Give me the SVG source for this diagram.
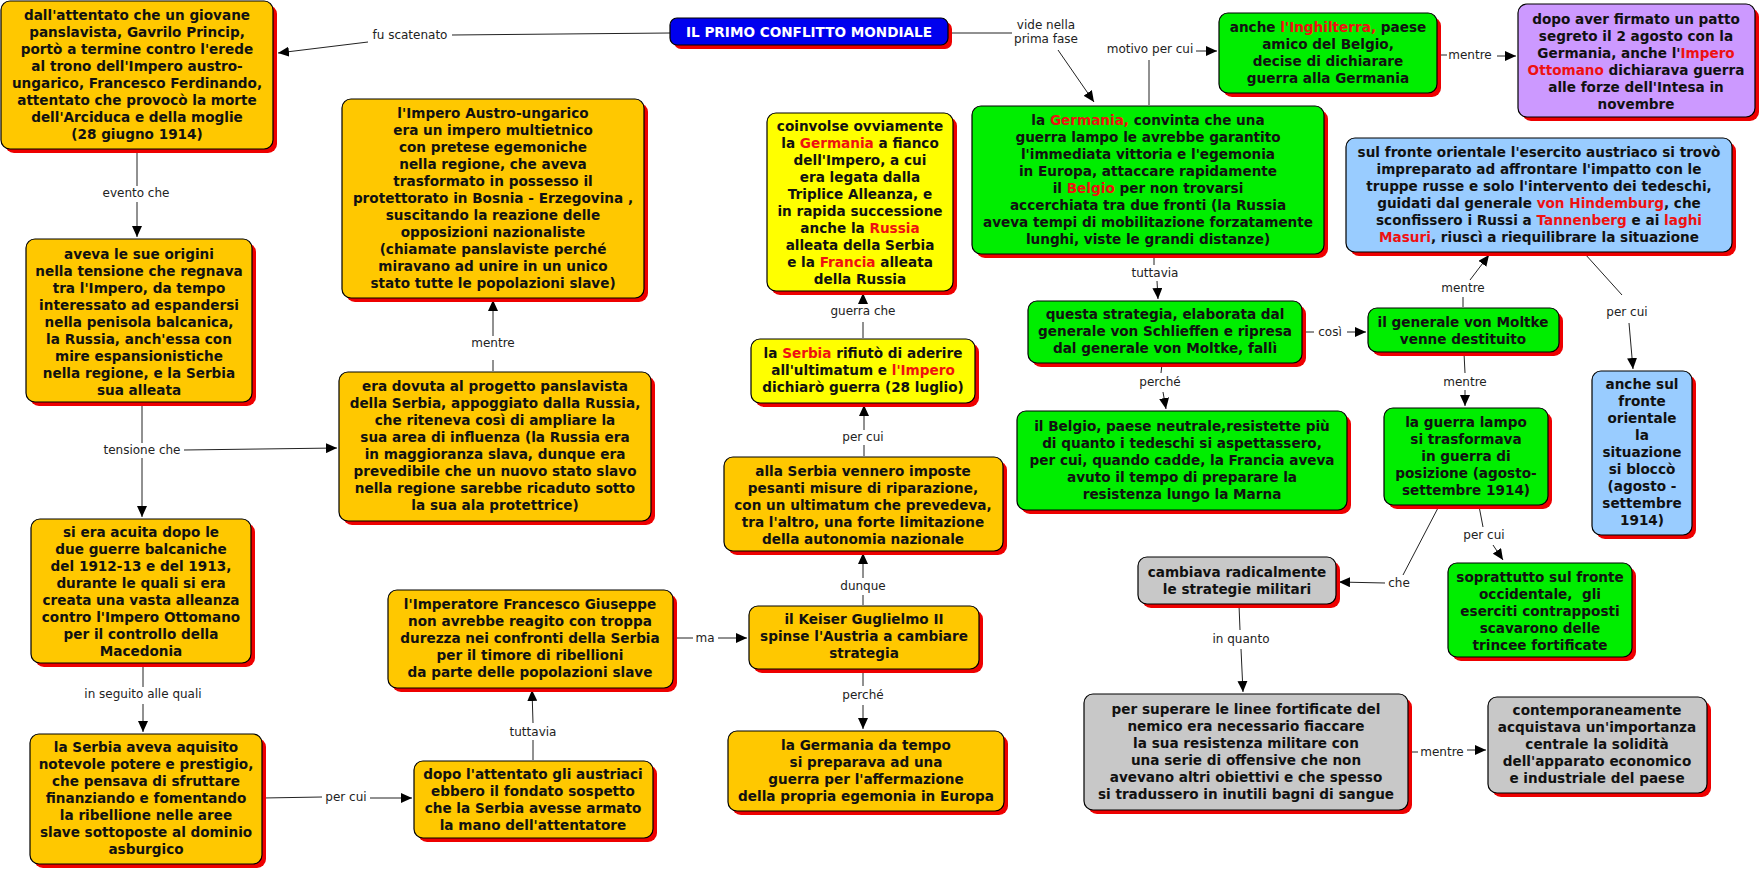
<svg xmlns="http://www.w3.org/2000/svg" width="1761" height="871" viewBox="0 0 1761 871">
<style>
.sh{fill:#ee0000}
.bx{stroke:#000;stroke-width:1.2}
.or{fill:#ffc800}.ye{fill:#ffff00}.gr{fill:#00ee00}.gy{fill:#c8c8c8}.bl{fill:#99ccff}.pu{fill:#cc99ff}.ti{fill:#0000ee}
.t{font-family:"DejaVu Sans",Verdana,sans-serif;font-weight:bold;font-size:13.6px;fill:#111;text-anchor:middle}
.w{fill:#fff}
.r{fill:#ee1111}
.lb{font-family:"DejaVu Sans",Verdana,sans-serif;font-size:12px;fill:#222;text-anchor:middle}
.ln{stroke:#222;stroke-width:1;fill:none}
.ar{stroke:#222;stroke-width:1;fill:none;marker-end:url(#ah)}
</style>
<defs>
<marker id="ah" markerUnits="userSpaceOnUse" markerWidth="12" markerHeight="10" refX="11" refY="5" orient="auto">
<path d="M0,0 L11,5 L0,10 z" fill="#000"/>
</marker>
</defs>
<rect width="1761" height="871" fill="#fff"/>

<g id="connectors">
<path class="ln" d="M670,33 L452,35"/><text class="lb" x="410" y="39">fu scatenato</text><path class="ar" d="M368,42 L278,53"/>
<path class="ln" d="M948,33 L1012,33"/><text class="lb" x="1046" y="29">vide nella</text><text class="lb" x="1046" y="43">prima fase</text><path class="ar" d="M1058,50 L1094,102"/>
<path class="ln" d="M1149,105 L1149,60"/><text class="lb" x="1150" y="53">motivo per cui</text><path class="ar" d="M1196,51 L1217,51"/>
<path class="ln" d="M1437,55 L1447,55"/><text class="lb" x="1470" y="59">mentre</text><path class="ar" d="M1497,56 L1516,56"/>
<path class="ln" d="M1154,255 L1154,265"/><text class="lb" x="1155" y="277">tuttavia</text><path class="ar" d="M1157,281 L1158,299"/>
<path class="ln" d="M1303,332 L1314,332"/><text class="lb" x="1330" y="336">così</text><path class="ar" d="M1347,332 L1366,332"/>
<path class="ln" d="M1162,364 L1161,373"/><text class="lb" x="1160" y="386">perché</text><path class="ar" d="M1163,392 L1166,409"/>
<path class="ln" d="M1463,307 L1463,297"/><text class="lb" x="1463" y="292">mentre</text><path class="ar" d="M1470,280 L1489,255"/>
<path class="ln" d="M1585,254 L1622,295"/><text class="lb" x="1627" y="316">per cui</text><path class="ar" d="M1629,323 L1633,369"/>
<path class="ln" d="M1464,353 L1465,373"/><text class="lb" x="1465" y="386">mentre</text><path class="ar" d="M1465,390 L1465,406"/>
<path class="ln" d="M1479,506 L1483,527"/><text class="lb" x="1484" y="539">per cui</text><path class="ar" d="M1493,545 L1503,560"/>
<path class="ln" d="M1439,506 L1403,575"/><text class="lb" x="1399" y="587">che</text><path class="ar" d="M1385,583 L1339,582"/>
<path class="ln" d="M1239,605 L1240,630"/><text class="lb" x="1241" y="643">in quanto</text><path class="ar" d="M1241,649 L1243,692"/>
<path class="ln" d="M1409,752 L1418,752"/><text class="lb" x="1442" y="756">mentre</text><path class="ar" d="M1467,750 L1486,750"/>
<path class="ln" d="M137,150 L137,186"/><text class="lb" x="136" y="197">evento che</text><path class="ar" d="M137,202 L137,237"/>
<path class="ln" d="M142,403 L142,443"/><text class="lb" x="142" y="454">tensione che</text><path class="ar" d="M142,458 L142,517"/><path class="ar" d="M184,450 L337,448"/>
<path class="ln" d="M143,664 L143,687"/><text class="lb" x="143" y="698">in seguito alle quali</text><path class="ar" d="M143,704 L143,732"/>
<path class="ln" d="M263,798 L322,797"/><text class="lb" x="346" y="801">per cui</text><path class="ar" d="M370,798 L412,798"/>
<path class="ln" d="M533,760 L533,740"/><text class="lb" x="533" y="736">tuttavia</text><path class="ar" d="M533,723 L532,690"/>
<path class="ln" d="M674,638 L693,638"/><text class="lb" x="705" y="642">ma</text><path class="ar" d="M718,638 L747,638"/>
<path class="ln" d="M863,605 L863,595"/><text class="lb" x="863" y="590">dunque</text><path class="ar" d="M863,578 L863,553"/>
<path class="ln" d="M863,670 L863,686"/><text class="lb" x="863" y="699">perché</text><path class="ar" d="M863,705 L863,729"/>
<path class="ln" d="M864,456 L864,445"/><text class="lb" x="863" y="441">per cui</text><path class="ar" d="M864,430 L864,405"/>
<path class="ln" d="M863,338 L863,322"/><text class="lb" x="863" y="315">guerra che</text><path class="ar" d="M863,303 L863,293"/>
<path class="ln" d="M493,371 L493,360"/><text class="lb" x="493" y="347">mentre</text><path class="ar" d="M493,336 L493,300"/>
</g>

<g id="title">
<rect class="sh" x="674" y="22" width="278" height="27" rx="7"/>
<rect class="bx ti" x="670" y="18" width="278" height="27" rx="7"/>
<text class="t w" x="809" y="37">IL PRIMO CONFLITTO MONDIALE</text>
</g>

<g id="n-attentato">
<rect class="sh" x="5" y="5" width="272" height="148" rx="9"/>
<rect class="bx or" x="1" y="1" width="272" height="148" rx="9"/>
<text class="t" x="137"><tspan x="137" y="20">dall'attentato che un giovane</tspan><tspan x="137" y="37">panslavista, Gavrilo Princip,</tspan><tspan x="137" y="54">portò a termine contro l'erede</tspan><tspan x="137" y="71">al trono dell'Impero austro-</tspan><tspan x="137" y="88">ungarico, Francesco Ferdinando,</tspan><tspan x="137" y="105">attentato che provocò la morte</tspan><tspan x="137" y="122">dell'Arciduca e della moglie</tspan><tspan x="137" y="139">(28 giugno 1914)</tspan></text>
</g>

<g id="n-origini">
<rect class="sh" x="30" y="243" width="226" height="163" rx="9"/>
<rect class="bx or" x="26" y="239" width="226" height="163" rx="9"/>
<text class="t"><tspan x="139" y="259">aveva le sue origini</tspan><tspan x="139" y="276">nella tensione che regnava</tspan><tspan x="139" y="293">tra l'Impero, da tempo</tspan><tspan x="139" y="310">interessato ad espandersi</tspan><tspan x="139" y="327">nella penisola balcanica,</tspan><tspan x="139" y="344">la Russia, anch'essa con</tspan><tspan x="139" y="361">mire espansionistiche</tspan><tspan x="139" y="378">nella regione, e la Serbia</tspan><tspan x="139" y="395">sua alleata</tspan></text>
</g>

<g id="n-acuita">
<rect class="sh" x="35" y="523" width="220" height="144" rx="9"/>
<rect class="bx or" x="31" y="519" width="220" height="144" rx="9"/>
<text class="t"><tspan x="141" y="537">si era acuita dopo le</tspan><tspan x="141" y="554">due guerre balcaniche</tspan><tspan x="141" y="571">del 1912-13 e del 1913,</tspan><tspan x="141" y="588">durante le quali si era</tspan><tspan x="141" y="605">creata una vasta alleanza</tspan><tspan x="141" y="622">contro l'Impero Ottomano</tspan><tspan x="141" y="639">per il controllo della</tspan><tspan x="141" y="656">Macedonia</tspan></text>
</g>

<g id="n-serbia-prestigio">
<rect class="sh" x="34" y="738" width="232" height="130" rx="9"/>
<rect class="bx or" x="30" y="734" width="232" height="130" rx="9"/>
<text class="t"><tspan x="146" y="752">la Serbia aveva aquisito</tspan><tspan x="146" y="769">notevole potere e prestigio,</tspan><tspan x="146" y="786">che pensava di sfruttare</tspan><tspan x="146" y="803">finanziando e fomentando</tspan><tspan x="146" y="820">la ribellione nelle aree</tspan><tspan x="146" y="837">slave sottoposte al dominio</tspan><tspan x="146" y="854">asburgico</tspan></text>
</g>

<g id="n-austro">
<rect class="sh" x="346" y="103" width="302" height="199" rx="9"/>
<rect class="bx or" x="342" y="99" width="302" height="199" rx="9"/>
<text class="t"><tspan x="493" y="118">l'Impero Austro-ungarico</tspan><tspan x="493" y="135">era un impero multietnico</tspan><tspan x="493" y="152">con pretese egemoniche</tspan><tspan x="493" y="169">nella regione, che aveva</tspan><tspan x="493" y="186">trasformato in possesso il</tspan><tspan x="493" y="203">protettorato in Bosnia - Erzegovina ,</tspan><tspan x="493" y="220">suscitando la reazione delle</tspan><tspan x="493" y="237">opposizioni nazionaliste</tspan><tspan x="493" y="254">(chiamate panslaviste perché</tspan><tspan x="493" y="271">miravano ad unire in un unico</tspan><tspan x="493" y="288">stato tutte le popolazioni slave)</tspan></text>
</g>

<g id="n-dovuta">
<rect class="sh" x="343" y="376" width="312" height="149" rx="9"/>
<rect class="bx or" x="339" y="372" width="312" height="149" rx="9"/>
<text class="t"><tspan x="495" y="391">era dovuta al progetto panslavista</tspan><tspan x="495" y="408">della Serbia, appoggiato dalla Russia,</tspan><tspan x="495" y="425">che riteneva così di ampliare la</tspan><tspan x="495" y="442">sua area di influenza (la Russia era</tspan><tspan x="495" y="459">in maggioranza slava, dunque era</tspan><tspan x="495" y="476">prevedibile che un nuovo stato slavo</tspan><tspan x="495" y="493">nella regione sarebbe ricaduto sotto</tspan><tspan x="495" y="510">la sua ala protettrice)</tspan></text>
</g>

<g id="n-imperatore">
<rect class="sh" x="392" y="594" width="285" height="98" rx="9"/>
<rect class="bx or" x="388" y="590" width="285" height="98" rx="9"/>
<text class="t"><tspan x="530" y="609">l'Imperatore Francesco Giuseppe</tspan><tspan x="530" y="626">non avrebbe reagito con troppa</tspan><tspan x="530" y="643">durezza nei confronti della Serbia</tspan><tspan x="530" y="660">per il timore di ribellioni</tspan><tspan x="530" y="677">da parte delle popolazioni slave</tspan></text>
</g>

<g id="n-sospetto">
<rect class="sh" x="418" y="765" width="239" height="77" rx="9"/>
<rect class="bx or" x="414" y="761" width="239" height="77" rx="9"/>
<text class="t"><tspan x="533" y="779">dopo l'attentato gli austriaci</tspan><tspan x="533" y="796">ebbero il fondato sospetto</tspan><tspan x="533" y="813">che la Serbia avesse armato</tspan><tspan x="533" y="830">la mano dell'attentatore</tspan></text>
</g>

<g id="n-coinvolse">
<rect class="sh" x="771" y="117" width="186" height="178" rx="9"/>
<rect class="bx ye" x="767" y="113" width="186" height="178" rx="9"/>
<text class="t"><tspan x="860" y="131">coinvolse ovviamente</tspan><tspan x="860" y="148">la <tspan class="r">Germania</tspan> a fianco</tspan><tspan x="860" y="165">dell'Impero, a cui</tspan><tspan x="860" y="182">era legata dalla</tspan><tspan x="860" y="199">Triplice Alleanza, e</tspan><tspan x="860" y="216">in rapida successione</tspan><tspan x="860" y="233">anche la <tspan class="r">Russia</tspan></tspan><tspan x="860" y="250">alleata della Serbia</tspan><tspan x="860" y="267">e la <tspan class="r">Francia</tspan> alleata</tspan><tspan x="860" y="284">della Russia</tspan></text>
</g>

<g id="n-rifiuto">
<rect class="sh" x="755" y="343" width="224" height="64" rx="9"/>
<rect class="bx ye" x="751" y="339" width="224" height="64" rx="9"/>
<text class="t"><tspan x="863" y="358">la <tspan class="r">Serbia</tspan> rifiutò di aderire</tspan><tspan x="863" y="375">all'ultimatum e <tspan class="r">l'Impero</tspan></tspan><tspan x="863" y="392">dichiarò guerra (28 luglio)</tspan></text>
</g>

<g id="n-riparazione">
<rect class="sh" x="728" y="461" width="279" height="94" rx="9"/>
<rect class="bx or" x="724" y="457" width="279" height="94" rx="9"/>
<text class="t"><tspan x="863" y="476">alla Serbia vennero imposte</tspan><tspan x="863" y="493">pesanti misure di riparazione,</tspan><tspan x="863" y="510">con un ultimatum che prevedeva,</tspan><tspan x="863" y="527">tra l'altro, una forte limitazione</tspan><tspan x="863" y="544">della autonomia nazionale</tspan></text>
</g>

<g id="n-keiser">
<rect class="sh" x="753" y="610" width="230" height="63" rx="9"/>
<rect class="bx or" x="749" y="606" width="230" height="63" rx="9"/>
<text class="t"><tspan x="864" y="624">il Keiser Guglielmo II</tspan><tspan x="864" y="641">spinse l'Austria a cambiare</tspan><tspan x="864" y="658">strategia</tspan></text>
</g>

<g id="n-germania-tempo">
<rect class="sh" x="732" y="735" width="276" height="80" rx="9"/>
<rect class="bx or" x="728" y="731" width="276" height="80" rx="9"/>
<text class="t"><tspan x="866" y="750">la Germania da tempo</tspan><tspan x="866" y="767">si preparava ad una</tspan><tspan x="866" y="784">guerra per l'affermazione</tspan><tspan x="866" y="801">della propria egemonia in Europa</tspan></text>
</g>

<g id="n-germania">
<rect class="sh" x="976" y="110" width="352" height="148" rx="9"/>
<rect class="bx gr" x="972" y="106" width="352" height="148" rx="9"/>
<text class="t"><tspan x="1148" y="125">la <tspan class="r">Germania,</tspan> convinta che una</tspan><tspan x="1148" y="142">guerra lampo le avrebbe garantito</tspan><tspan x="1148" y="159">l'immediata vittoria e l'egemonia</tspan><tspan x="1148" y="176">in Europa, attaccare rapidamente</tspan><tspan x="1148" y="193">il <tspan class="r">Belgio</tspan> per non trovarsi</tspan><tspan x="1148" y="210">accerchiata tra due fronti (la Russia</tspan><tspan x="1148" y="227">aveva tempi di mobilitazione forzatamente</tspan><tspan x="1148" y="244">lunghi, viste le grandi distanze)</tspan></text>
</g>

<g id="n-inghilterra">
<rect class="sh" x="1223" y="17" width="218" height="80" rx="9"/>
<rect class="bx gr" x="1219" y="13" width="218" height="80" rx="9"/>
<text class="t"><tspan x="1328" y="32">anche <tspan class="r">l'Inghilterra,</tspan> paese</tspan><tspan x="1328" y="49">amico del Belgio,</tspan><tspan x="1328" y="66">decise di dichiarare</tspan><tspan x="1328" y="83">guerra alla Germania</tspan></text>
</g>

<g id="n-ottomano">
<rect class="sh" x="1522" y="8" width="237" height="113" rx="9"/>
<rect class="bx pu" x="1518" y="4" width="237" height="113" rx="9"/>
<text class="t"><tspan x="1636" y="24">dopo aver firmato un patto</tspan><tspan x="1636" y="41">segreto il 2 agosto con la</tspan><tspan x="1636" y="58">Germania, anche l'<tspan class="r">Impero</tspan></tspan><tspan x="1636" y="75"><tspan class="r">Ottomano</tspan> dichiarava guerra</tspan><tspan x="1636" y="92">alle forze dell'Intesa in</tspan><tspan x="1636" y="109">novembre</tspan></text>
</g>

<g id="n-fronte-orientale">
<rect class="sh" x="1350" y="142" width="386" height="114" rx="9"/>
<rect class="bx bl" x="1346" y="138" width="386" height="114" rx="9"/>
<text class="t"><tspan x="1539" y="157">sul fronte orientale l'esercito austriaco si trovò</tspan><tspan x="1539" y="174">impreparato ad affrontare l'impatto con le</tspan><tspan x="1539" y="191">truppe russe e solo l'intervento dei tedeschi,</tspan><tspan x="1539" y="208">guidati dal generale <tspan class="r">von Hindemburg</tspan>, che</tspan><tspan x="1539" y="225">sconfissero i Russi a <tspan class="r">Tannenberg</tspan> e ai <tspan class="r">laghi</tspan></tspan><tspan x="1539" y="242"><tspan class="r">Masuri</tspan>, riuscì a riequilibrare la situazione</tspan></text>
</g>

<g id="n-schlieffen">
<rect class="sh" x="1032" y="305" width="274" height="62" rx="9"/>
<rect class="bx gr" x="1028" y="301" width="274" height="62" rx="9"/>
<text class="t"><tspan x="1165" y="319">questa strategia, elaborata dal</tspan><tspan x="1165" y="336">generale von Schlieffen e ripresa</tspan><tspan x="1165" y="353">dal generale von Moltke, fallì</tspan></text>
</g>

<g id="n-moltke">
<rect class="sh" x="1372" y="312" width="191" height="44" rx="9"/>
<rect class="bx gr" x="1368" y="308" width="191" height="44" rx="9"/>
<text class="t"><tspan x="1463" y="327">il generale von Moltke</tspan><tspan x="1463" y="344">venne destituito</tspan></text>
</g>

<g id="n-blocco">
<rect class="sh" x="1596" y="375" width="100" height="164" rx="9"/>
<rect class="bx bl" x="1592" y="371" width="100" height="164" rx="9"/>
<text class="t"><tspan x="1642" y="389">anche sul</tspan><tspan x="1642" y="406">fronte</tspan><tspan x="1642" y="423">orientale</tspan><tspan x="1642" y="440">la</tspan><tspan x="1642" y="457">situazione</tspan><tspan x="1642" y="474">si bloccò</tspan><tspan x="1642" y="491">(agosto -</tspan><tspan x="1642" y="508">settembre</tspan><tspan x="1642" y="525">1914)</tspan></text>
</g>

<g id="n-belgio">
<rect class="sh" x="1021" y="415" width="330" height="99" rx="9"/>
<rect class="bx gr" x="1017" y="411" width="330" height="99" rx="9"/>
<text class="t"><tspan x="1182" y="431">il Belgio, paese neutrale,resistette più</tspan><tspan x="1182" y="448">di quanto i tedeschi si aspettassero,</tspan><tspan x="1182" y="465">per cui, quando cadde, la Francia aveva</tspan><tspan x="1182" y="482">avuto il tempo di preparare la</tspan><tspan x="1182" y="499">resistenza lungo la Marna</tspan></text>
</g>

<g id="n-guerra-lampo">
<rect class="sh" x="1388" y="412" width="164" height="97" rx="9"/>
<rect class="bx gr" x="1384" y="408" width="164" height="97" rx="9"/>
<text class="t"><tspan x="1466" y="427">la guerra lampo</tspan><tspan x="1466" y="444">si trasformava</tspan><tspan x="1466" y="461">in guerra di</tspan><tspan x="1466" y="478">posizione (agosto-</tspan><tspan x="1466" y="495">settembre 1914)</tspan></text>
</g>

<g id="n-trincee">
<rect class="sh" x="1452" y="567" width="184" height="94" rx="9"/>
<rect class="bx gr" x="1448" y="563" width="184" height="94" rx="9"/>
<text class="t"><tspan x="1540" y="582">soprattutto sul fronte</tspan><tspan x="1540" y="599">occidentale,&#160; gli</tspan><tspan x="1540" y="616">eserciti contrapposti</tspan><tspan x="1540" y="633">scavarono delle</tspan><tspan x="1540" y="650">trincee fortificate</tspan></text>
</g>

<g id="n-strategie">
<rect class="sh" x="1142" y="561" width="198" height="47" rx="9"/>
<rect class="bx gy" x="1138" y="557" width="198" height="47" rx="9"/>
<text class="t"><tspan x="1237" y="577">cambiava radicalmente</tspan><tspan x="1237" y="594">le strategie militari</tspan></text>
</g>

<g id="n-superare">
<rect class="sh" x="1088" y="698" width="324" height="116" rx="9"/>
<rect class="bx gy" x="1084" y="694" width="324" height="116" rx="9"/>
<text class="t"><tspan x="1246" y="714">per superare le linee fortificate del</tspan><tspan x="1246" y="731">nemico era necessario fiaccare</tspan><tspan x="1246" y="748">la sua resistenza militare con</tspan><tspan x="1246" y="765">una serie di offensive che non</tspan><tspan x="1246" y="782">avevano altri obiettivi e che spesso</tspan><tspan x="1246" y="799">si tradussero in inutili bagni di sangue</tspan></text>
</g>

<g id="n-economia">
<rect class="sh" x="1492" y="701" width="219" height="96" rx="9"/>
<rect class="bx gy" x="1488" y="697" width="219" height="96" rx="9"/>
<text class="t"><tspan x="1597" y="715">contemporaneamente</tspan><tspan x="1597" y="732">acquistava un'importanza</tspan><tspan x="1597" y="749">centrale la solidità</tspan><tspan x="1597" y="766">dell'apparato economico</tspan><tspan x="1597" y="783">e industriale del paese</tspan></text>
</g>
</svg>
